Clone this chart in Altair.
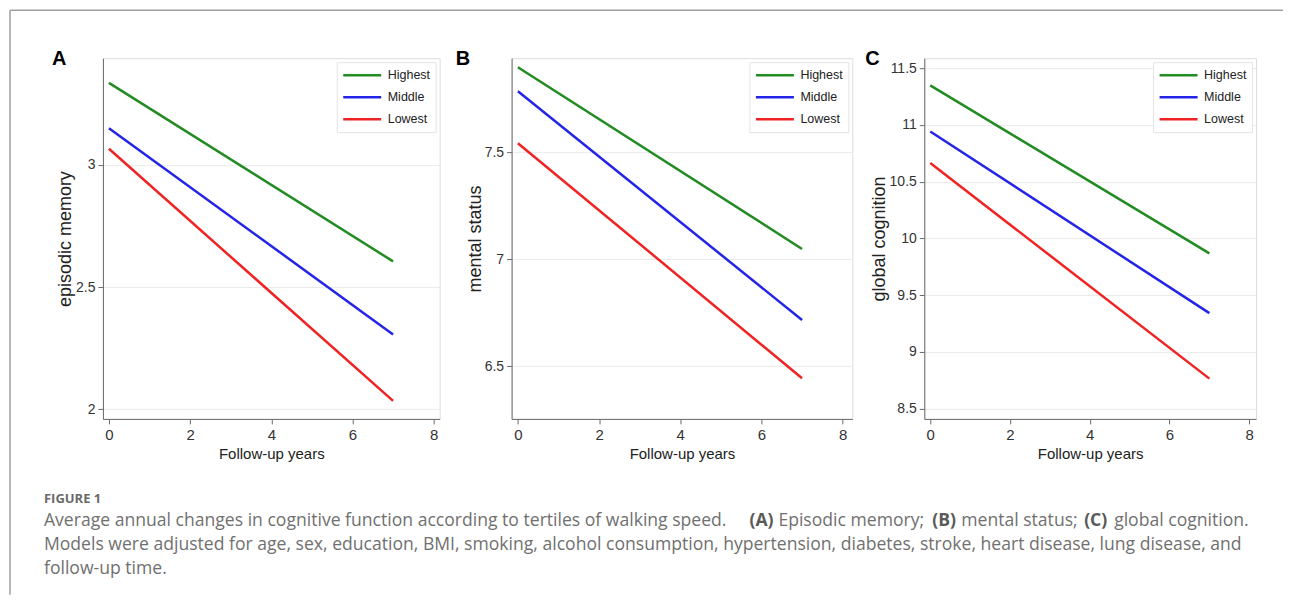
import altair as alt
import pandas as pd

# ---------------- data ----------------
years = [0, 7]
groups = ["Highest", "Middle", "Lowest"]
colors = ["#228b22", "#2424e8", "#f02222"]

mem_high = [3.336, 2.605]
mem_mid = [3.150, 2.306]
mem_low = [3.066, 2.034]

ment_high = [7.897, 7.048]
ment_mid = [7.785, 6.716]
ment_low = [7.542, 6.444]

glob_high = [11.348, 9.868]
glob_mid = [10.942, 9.342]
glob_low = [10.664, 8.765]

x_ticks = [0, 2, 4, 6, 8]
mem_ticks = [2, 2.5, 3]
ment_ticks = [6.5, 7, 7.5]
glob_ticks = [8.5, 9, 9.5, 10, 10.5, 11, 11.5]

caption_label = "FIGURE 1"
caption_l1 = "Average annual changes in cognitive function according to tertiles of walking speed."
caption_l1_parts = [("(A)", True), ("Episodic memory;", False), ("(B)", True),
                    ("mental status;", False), ("(C)", True), ("global cognition.", False)]
caption_l2 = ("Models were adjusted for age, sex, education, BMI, smoking, alcohol consumption, "
              "hypertension, diabetes, stroke, heart disease, lung disease, and")
caption_l3 = "follow-up time."

SANS = "Liberation Sans, Arial, sans-serif"
CAP = "Open Sans, Lato, sans-serif"
CAP_SIZE = 17.6
H = 361


def make_df(high, mid, low):
    rows = []
    for g, vals in zip(groups, [high, mid, low]):
        for x, v in zip(years, vals):
            rows.append({"year": x, "value": v, "group": g})
    return pd.DataFrame(rows)


one = alt.Data(values=[{"k": 0}])


def panel(df, ytitle, yticks, ydom, xdom, width, letter, letter_x, title_x):
    lines = alt.Chart(df).mark_line(strokeWidth=2.5).encode(
        x=alt.X("year:Q",
                scale=alt.Scale(domain=xdom, nice=False, zero=False),
                axis=alt.Axis(values=x_ticks, format="~g", title="Follow-up years", grid=False,
                              domainColor="#6a6a6a", tickColor="#6a6a6a", tickSize=5,
                              labelFont=SANS, labelFontSize=15, labelColor="#333333",
                              labelPadding=4, titleFont=SANS, titleFontSize=15,
                              titleFontWeight="normal", titleColor="#222222",
                              titleY=35, titleBaseline="middle")),
        y=alt.Y("value:Q",
                scale=alt.Scale(domain=ydom, nice=False, zero=False),
                axis=alt.Axis(values=yticks, format="~g", title=ytitle, grid=True,
                              gridColor="#ebebeb", gridWidth=1,
                              domainColor="#6a6a6a", tickColor="#6a6a6a", tickSize=5,
                              labelFont=SANS, labelFontSize=14, labelColor="#333333",
                              labelPadding=3, titleFont=SANS, titleFontSize=18,
                              titleFontWeight="normal", titleColor="#222222",
                              titleX=title_x, titleY=H / 2, titleAngle=270,
                              titleAlign="center", titleBaseline="middle")),
        color=alt.Color("group:N",
                        scale=alt.Scale(domain=groups, range=colors),
                        legend=alt.Legend(title=None, orient="top-right", offset=4, padding=5,
                                          fillColor="white", strokeColor="#e4e4e4",
                                          symbolType="stroke", symbolSize=1444,
                                          symbolStrokeWidth=2.5, labelFont=SANS,
                                          labelFontSize=12.5, labelColor="#222222",
                                          clipHeight=16, rowPadding=6, labelOffset=5)),
    )
    lab = alt.Chart(one).mark_text(align="left", baseline="middle", font=SANS,
                                   fontSize=20, fontWeight="bold", color="#000000").encode(
        x=alt.value(letter_x), y=alt.value(1), text=alt.value(letter))
    return alt.layer(lines, lab).properties(width=width, height=H)


pA = panel(make_df(mem_high, mem_mid, mem_low), "episodic memory", mem_ticks,
           [1.96, 3.437], [-0.148, 8.148], 337, "A", -51, -37)
pB = panel(make_df(ment_high, ment_mid, ment_low), "mental status", ment_ticks,
           [6.254, 7.939], [-0.155, 8.239], 341, "B", -56, -36)
pC = panel(make_df(glob_high, glob_mid, glob_low), "global cognition", glob_ticks,
           [8.41, 11.588], [-0.15, 8.17], 332, "C", -59, -45)

# frame lines and caption (positioned relative to panel A's plot area)
frame_left = alt.Chart(one).mark_rule(color="#a0a0a0", strokeWidth=1.5).encode(
    x=alt.value(-93), y=alt.value(-48), y2=alt.value(537))
frame_top = alt.Chart(one).mark_rule(color="#a0a0a0", strokeWidth=1.5).encode(
    x=alt.value(-93), x2=alt.value(1181), y=alt.value(-48))

cap_layers = [
    alt.Chart(one).mark_text(align="left", baseline="middle", font=CAP, fontSize=13,
                             fontWeight="bold", color="#6a6a6a").encode(
        x=alt.value(-59), y=alt.value(441), text=alt.value(caption_label)),
    alt.Chart(one).mark_text(align="left", baseline="middle", font=CAP, fontSize=CAP_SIZE,
                             color="#707070").encode(
        x=alt.value(-59), y=alt.value(463), text=alt.value(caption_l1)),
    alt.Chart(one).mark_text(align="left", baseline="middle", font=CAP, fontSize=CAP_SIZE,
                             color="#707070").encode(
        x=alt.value(-59), y=alt.value(487), text=alt.value(caption_l2)),
    alt.Chart(one).mark_text(align="left", baseline="middle", font=CAP, fontSize=CAP_SIZE,
                             color="#707070").encode(
        x=alt.value(-59), y=alt.value(511), text=alt.value(caption_l3)),
]
part_x = [647, 676, 830, 859, 982, 1012]
for (txt, bold), px in zip(caption_l1_parts, part_x):
    cap_layers.append(
        alt.Chart(one).mark_text(align="left", baseline="middle", font=CAP, fontSize=CAP_SIZE,
                                 fontWeight="bold" if bold else "normal",
                                 color="#5a5a5a" if bold else "#707070").encode(
            x=alt.value(px), y=alt.value(463), text=alt.value(txt)))

pA = alt.layer(pA, frame_left, frame_top, *cap_layers).properties(width=337, height=H)

chart = (
    alt.hconcat(pA, pB, pC, spacing=72, bounds="flush")
    .resolve_scale(color="independent", x="independent", y="independent")
    .resolve_legend(color="independent")
    .properties(padding=0, background="white")
    .configure_view(strokeWidth=0)
    .configure(font="Liberation Sans")
)

chart.save("out.html", embed_options={"renderer": "svg", "actions": False})
